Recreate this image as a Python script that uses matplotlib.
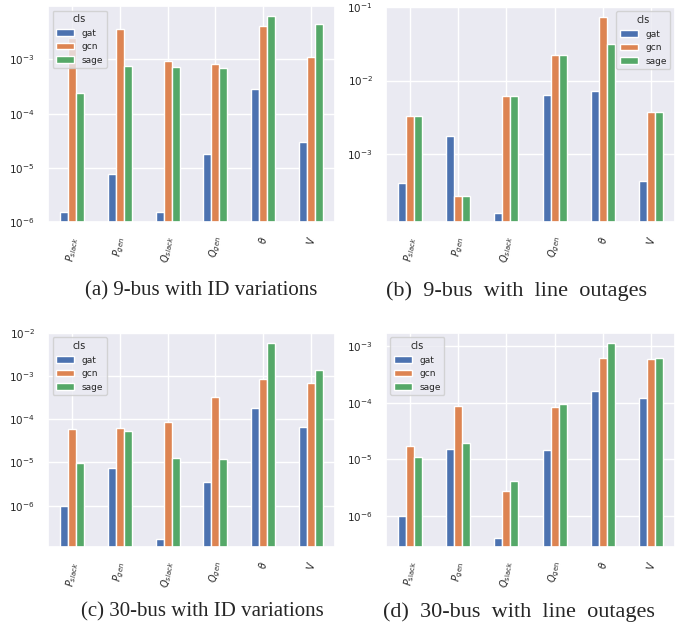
import pandas as pd
import numpy as np
import matplotlib
matplotlib.use("Agg")
import matplotlib.pyplot as plt
import seaborn as sns

sns.set_theme(style="darkgrid")

models = ["gat", "gcn", "sage"]
labels_it = [r"$P_{slack}$", r"$P_{gen}$", r"$Q_{slack}$", r"$Q_{gen}$", r"$\theta$", r"$V$"]
labels_rm = [r"$P_{\rm slack}$", r"$P_{\rm gen}$", r"$Q_{\rm slack}$", r"$Q_{\rm gen}$", r"$\theta$", r"$V$"]

# (a) 9-bus with ID variations
bus9_id_gat = [1.5e-6, 7.7e-6, 1.5e-6, 1.8e-5, 2.8e-4, 3.0e-5]
bus9_id_gcn = [2.5e-3, 3.7e-3, 9.5e-4, 8.3e-4, 4.1e-3, 1.1e-3]
bus9_id_sage = [2.4e-4, 7.7e-4, 7.2e-4, 6.9e-4, 6.3e-3, 4.6e-3]

# (b) 9-bus with line outages
bus9_lo_gat = [4.0e-4, 1.76e-3, 1.58e-4, 6.4e-3, 7.3e-3, 4.3e-4]
bus9_lo_gcn = [3.3e-3, 2.7e-4, 6.2e-3, 2.2e-2, 7.4e-2, 3.7e-3]
bus9_lo_sage = [3.3e-3, 2.7e-4, 6.2e-3, 2.2e-2, 3.1e-2, 3.7e-3]

# (c) 30-bus with ID variations
bus30_id_gat = [1.0e-6, 7.6e-6, 1.72e-7, 3.6e-6, 1.85e-4, 6.8e-5]
bus30_id_gcn = [6.1e-5, 6.4e-5, 8.8e-5, 3.2e-4, 8.7e-4, 7.0e-4]
bus30_id_sage = [9.5e-6, 5.4e-5, 1.29e-5, 1.22e-5, 5.9e-3, 1.37e-3]

# (d) 30-bus with line outages
bus30_lo_gat = [1.0e-6, 1.54e-5, 4.0e-7, 1.46e-5, 1.61e-4, 1.22e-4]
bus30_lo_gcn = [1.74e-5, 8.9e-5, 2.7e-6, 8.3e-5, 6.3e-4, 6.0e-4]
bus30_lo_sage = [1.1e-5, 1.91e-5, 4.2e-6, 9.6e-5, 1.15e-3, 6.1e-4]

captions = ["(a) 9-bus with ID variations", "(b) 9-bus with line outages",
            "(c) 30-bus with ID variations", "(d) 30-bus with line outages"]


def make_df(gat, gcn, sage, labels):
    df = pd.DataFrame({"gat": gat, "gcn": gcn, "sage": sage}, index=labels)
    df.columns.name = "cls"
    return df


panels = [
    (make_df(bus9_id_gat, bus9_id_gcn, bus9_id_sage, labels_it), (1e-6, 9.7e-3), "upper left",
     [0.0697, 0.6454, 0.4165, 0.345]),
    (make_df(bus9_lo_gat, bus9_lo_gcn, bus9_lo_sage, labels_it), (1.2e-4, 1e-1), "upper right",
     [0.5602, 0.6454, 0.4194, 0.3435]),
    (make_df(bus30_id_gat, bus30_id_gcn, bus30_id_sage, labels_it), (1.1e-7, 1e-2), "upper left",
     [0.0697, 0.1262, 0.4165, 0.3419]),
    (make_df(bus30_lo_gat, bus30_lo_gcn, bus30_lo_sage, labels_rm), (2.8e-7, 1.72e-3), "upper left",
     [0.5602, 0.1262, 0.4194, 0.3419]),
]

fig = plt.figure(figsize=(6.89, 6.26), dpi=100)

for df, ylim, loc, rect in panels:
    ax = fig.add_axes(rect)
    df.plot.bar(ax=ax, logy=True, rot=80)
    ax.set_ylim(*ylim)
    ax.tick_params(axis="y", labelsize=7.5)
    ax.tick_params(axis="x", labelsize=7)
    ax.legend(title="cls", loc=loc, fontsize=6.5, title_fontsize=7)

# captions: the right column is set a bit wider
cap_pos = [(0.292, 0.535), (0.750, 0.535), (0.294, 0.022), (0.753, 0.022)]
cap_size = [15, 16, 15, 16]
cap_gap = [" ", "  ", " ", "  "]
for (x, y), text, size, gap in zip(cap_pos, captions, cap_size, cap_gap):
    fig.text(x, y, gap.join(text.split(" ")), ha="center", va="center",
             fontsize=size, family="Liberation Serif")

fig.savefig("out.png", dpi=100)
